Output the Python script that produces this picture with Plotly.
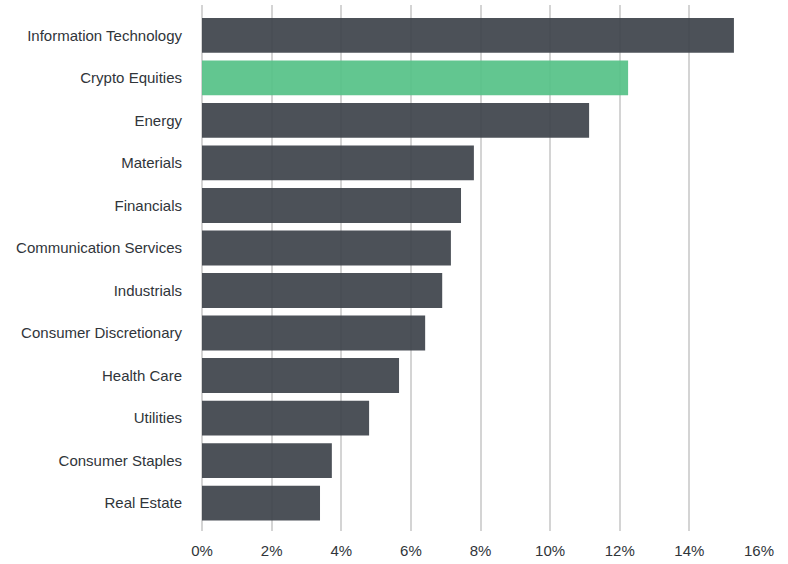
import plotly.graph_objects as go

sectors = ["Information Technology", "Crypto Equities", "Energy", "Materials", "Financials",
           "Communication Services", "Industrials", "Consumer Discretionary", "Health Care",
           "Utilities", "Consumer Staples", "Real Estate"]
returns = [15.28, 12.24, 11.12, 7.81, 7.44, 7.15, 6.90, 6.41, 5.66, 4.80, 3.73, 3.39]
highlight = "Crypto Equities"
tick_vals = [0, 2, 4, 6, 8, 10, 12, 14, 16]
tick_text = ["0%", "2%", "4%", "6%", "8%", "10%", "12%", "14%", "16%"]

ys = sectors[::-1]
xs = returns[::-1]
colors = ["#56c288" if s == highlight else "#3e444b" for s in ys]

fig = go.Figure(go.Bar(
    x=xs, y=ys, orientation="h",
    marker=dict(color=colors, opacity=0.93, line=dict(width=0)),
    width=0.82, hoverinfo="x+y",
))

fig.update_layout(
    width=788, height=564,
    margin=dict(l=202, r=29, t=5, b=31),
    paper_bgcolor="white", plot_bgcolor="white",
    font=dict(family="Liberation Sans, Arial, Helvetica, sans-serif", size=15, color="#30353a"),
    showlegend=False,
    xaxis=dict(
        range=[0, 16], tickvals=tick_vals, ticktext=tick_text,
        showgrid=True, gridcolor="#d4d4d4", gridwidth=1.5,
        zeroline=True, zerolinecolor="#d4d4d4", zerolinewidth=1.5,
        showline=False, ticks="", ticklabelstandoff=9,
        tickfont=dict(size=15, color="#30353a"),
    ),
    yaxis=dict(
        categoryorder="array", categoryarray=ys,
        range=[-0.656, 11.714],
        showgrid=False, zeroline=False, showline=False, ticks="",
        ticklabelstandoff=19,
        tickfont=dict(size=15, color="#30353a"),
    ),
)

fig.write_html(
    "out.html",
    config={"displayModeBar": False},
    post_script="document.body.style.margin='0';document.body.style.padding='0';document.body.style.overflow='hidden';",
)
